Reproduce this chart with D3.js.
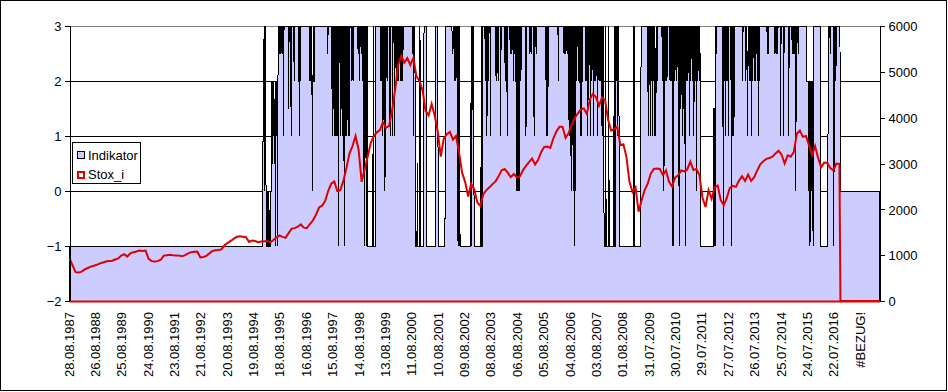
<!DOCTYPE html>
<html><head><meta charset="utf-8">
<script src="https://cdn.jsdelivr.net/npm/d3@7"></script>
<style>
body{margin:0;background:#fff}
svg{display:block}
text{font-family:"Liberation Sans",Arial,sans-serif;font-size:13px;fill:#000}
</style>
</head><body>
<svg id="chart" width="948" height="392"></svg>
<script>
// ---------- DATA ----------
const tickLabels = ["28.08.1987","26.08.1988","25.08.1989","24.08.1990","23.08.1991","21.08.1992",
  "20.08.1993","19.08.1994","18.08.1995","16.08.1996","15.08.1997","14.08.1998","13.08.1999",
  "11.08.2000","10.08.2001","09.08.2002","08.08.2003","06.08.2004","05.08.2005","04.08.2006",
  "03.08.2007","01.08.2008","31.07.2009","30.07.2010","29.07.2011","27.07.2012","26.07.2013",
  "25.07.2014","24.07.2015","22.07.2016","#BEZUG!"];
const weeksPerLabel = 52;       // one tick label per 52 weekly categories
const categoryCount = 1598;     // weekly categories
const bezugStart = 1520;        // from here on the cells are #BEZUG! (plotted as 0)
const leftTicks = [-2,-1,0,1,2,3];
const rightTicks = [0,1000,2000,3000,4000,5000,6000];
const seriesNames = ["Indikator","Stox_i"];

// Stox_i, one reading every 6 weeks
const stoxStepWeeks = 6;
const stoxValues = [
 930,780,630,620,640,690,720,750,770,790,820,840,860,875,880,905,930,990,1020,970,
 1040,1065,1080,1100,1090,1100,920,870,860,870,900,990,1000,1010,1000,995,990,975,1000,1040,
 1065,1075,1080,950,960,985,1040,1090,1105,1110,1130,1220,1270,1310,1360,1400,1410,1400,1390,1290,
 1320,1310,1285,1300,1305,1310,1280,1330,1390,1430,1400,1380,1480,1580,1590,1620,1670,1600,1590,1680,
 1760,1880,2040,2080,2180,2400,2560,2610,2400,2420,2620,2900,3220,3380,3600,3300,2600,2880,3150,3450,
 3600,3680,3730,3900,3780,3820,4150,4600,5150,5350,5200,5300,5150,5300,4900,4800,4600,4150,4050,4300,
 4050,3700,3150,3550,3640,3690,3520,3600,3250,2800,2600,2280,2560,2440,2150,2080,2330,2420,2480,2550,
 2610,2720,2850,2880,2800,2700,2770,2700,2720,2850,2950,3030,3110,2980,3080,3250,3360,3370,3340,3550,
 3700,3800,3800,3560,3660,3850,3990,4090,4180,4200,4080,4400,4520,4450,4260,4440,4380,3950,3720,3750,
 3800,3400,3420,3150,2600,2380,2480,1950,2200,2420,2560,2780,2880,2890,2880,2750,2850,2600,2500,2690,
 2740,2850,2830,2870,3040,2860,2880,2750,2250,2050,2420,2230,2480,2520,2200,2090,2250,2470,2510,2490,
 2630,2720,2620,2760,2620,2700,2850,2980,3050,3100,3120,3150,3220,3280,3190,3000,3180,3150,3250,3650,
 3720,3580,3600,3400,3180,3380,3120,2920,3020,3010,2900,2850,3000,2990];

// Indikator: [week, value] change points (value holds until the next change)
const indikatorChanges = [
 [0,-1],
 [382,2.5],[384,3],[385,0],[386,3],[387,1],[388,-1],[390,0],[391,-1],[393,0],[394,-1],
 [398,2],[400,0.5],[401,2],[402,1],[403,2],[404,0.5],[405,1.5],[406,-1],[407,2],[408,1],[409,2],[410,-1],[411,2],
 [412,3],[414,2.5],[415,3],[417,2.5],[418,3],[420,2.5],[421,3],[422,1],[423,3],
 [432,1.5],[433,3],[437,1],[438,3],[443,2],[444,3],[453,1],[454,3],[455,2],[456,3],
 [474,2],[475,3],[476,2],[477,3],[478,2],[479,0],[480,2],[481,3],[482,2],[484,3],
 [509,2.5],[510,3],
 [518,1],[519,3],[520,1.5],[521,3],[522,1],[523,3],[524,1],[525,3],[526,1],[527,3],[528,1],[529,3],[530,-1],[531,3],
 [534,1],[535,3],[536,1.5],[537,3],[538,1],[539,3],[541,1],[542,-1],[543,3],[545,1],[546,3],[547,1],[548,3],[550,1],[551,3],[552,1],[553,3],
 [556,2],[557,3],[559,2],[560,3],
 [569,2.5],[570,3],[572,2],[573,3],[575,2.5],[576,3],[578,2],[579,3],
 [581,-1],[582,3],[585,-1],[586,3],[588,-1],[599,3],[600,-1],[604,3],
 [614,2],[615,3],[616,2],[617,3],[618,1],[619,3],[620,2],[621,3],[622,0],[623,3],[624,2],[625,3],[627,2],[628,3],[632,1],[633,3],[637,1],[638,3],[641,1],[642,3],
 [644,2],[645,3],[646,2],[647,3],[649,2],[650,3],[652,2],[653,3],[655,2],[656,3],[657,2],[658,3],
 [678,1],[679,3],
 [682,-1],[686,0.5],[687,-1],[691,3],[692,-1],[699,3],[704,-1],[722,3],[727,-1],[740,-0.5],[742,3],
 [755,2.5],[757,3],[759,2],[760,3],[762,2],[763,3],
 [766,-1],[767,3],[768,-1],[769,3],[770,-1],
 [792,3],[793,-1],[794,3],[797,1],[798,-1],[812,3],[813,-1],[815,3],
 [820,2],[821,3],[823,1],[824,3],[826,2],[827,3],[830,1],[831,3],
 [841,2],[842,3],[845,2],[846,3],[850,1],[851,3],[859,2],[860,3],[863,1],[864,3],
 [869,2.5],[870,3],[872,2.5],[873,3],[875,2],[876,3],[878,2.5],[879,3],
 [881,0],[882,3],[883,0],[884,3],[885,0],[886,3],[887,0],[888,3],
 [890,2],[891,3],[900,1],[901,3],[907,2.5],[908,3],[910,2.5],[911,3],[916,1],[917,3],[920,2.5],[921,3],[940,1],[941,3],[943,1],[944,3],
 [964,2],[965,3],[975,2.5],[976,3],[978,2.5],[979,3],[981,2.5],[982,3],[985,1],[986,3],[989,0],[990,3],
 [993,0],[994,3],[995,-1],[996,3],[997,0],[998,3],
 [1000,2],[1001,3],[1004,2],[1005,3],[1007,1],[1008,3],[1010,1],[1011,3],
 [1018,2],[1019,3],[1020,2],[1021,3],[1022,1],[1023,3],[1024,2],[1025,3],[1027,1],[1028,3],[1030,2],[1031,3],[1033,1],[1034,3],[1036,2],[1037,3],[1038,2],[1039,3],[1041,1],[1042,3],[1044,2],[1045,3],[1047,2],[1048,3],[1050,1],[1051,3],
 [1054,-1],[1057,3],[1058,-1],[1063,3],[1064,-1],[1074,3],[1075,-1],
 [1077,3],[1078,2],[1079,3],[1080,1],[1081,3],[1082,2],[1083,3],
 [1084,-1],[1113,3],[1114,-1],[1127,3],
 [1141,1],[1142,3],
 [1145,1],[1146,3],[1147,2],[1148,3],[1149,1],[1150,3],[1151,2],[1152,3],[1153,1],[1154,3],[1155,2],[1156,1],[1157,3],[1159,2],[1160,3],
 [1169,2],[1170,3],[1172,0],[1173,3],[1175,2],[1176,3],[1178,2],[1179,3],
 [1184,2],[1185,3],[1186,2],[1187,3],[1189,-1],[1190,3],[1191,-1],[1192,3],[1193,2],[1194,3],[1196,2],[1197,3],[1200,2],[1201,3],[1202,-1],[1203,3],
 [1205,1.5],[1206,3],[1208,1],[1209,3],[1211,1.5],[1212,3],[1214,-1],[1215,3],
 [1217,2],[1218,3],[1219,2],[1220,3],[1222,1],[1223,3],[1225,2],[1226,3],[1228,2],[1229,3],[1231,1],[1232,3],[1234,2],[1235,3],[1236,0],[1237,3],[1239,2],[1240,3],[1242,2],[1243,3],
 [1244,-1],[1270,1.5],[1271,-1],[1272,1.5],[1273,-1],
 [1274,3],[1275,2.5],[1276,3],
 [1289,-1],[1290,3],[1291,2],[1292,3],[1293,1],[1294,3],[1295,2],[1296,3],[1297,2],[1298,3],[1299,1],[1300,3],
 [1305,-1],[1306,3],[1307,1],[1308,3],[1310,1],[1311,3],[1327,2],[1328,3],
 [1333,2],[1334,3],[1336,2],[1337,1],[1338,3],[1340,2],[1341,3],[1343,2],[1344,3],[1345,1],[1346,3],[1347,2],[1348,3],[1350,2],[1351,3],[1353,2],[1354,3],[1356,2],[1357,3],[1358,1],[1359,3],[1360,2],[1361,3],
 [1376,2.5],[1377,3],[1378,2.5],[1379,3],
 [1390,2.5],[1391,3],[1393,2.5],[1394,3],[1396,2.5],[1397,3],
 [1402,1],[1403,3],[1408,1],[1409,3],[1418,1],[1419,3],
 [1425,2.5],[1426,3],[1427,2.5],[1428,3],[1430,2.5],[1431,3],[1432,0],[1433,3],[1434,2.5],[1435,3],[1437,2.5],[1438,3],
 [1454,2],[1458,0],[1459,2],[1460,-1],[1461,2],[1463,0],[1464,2],[1466,-1],[1467,3],
 [1481,-1],[1496,3],[1500,2.5],[1501,3],[1507,-1],[1508,3],[1509,2],[1510,3],[1511,2],[1512,3],
 [bezugStart,0]
];

// ---------- BUILD ----------
const indikator = [];
{
  let c = 0;
  for (let i = 0; i < categoryCount; i++) {
    while (c + 1 < indikatorChanges.length && indikatorChanges[c + 1][0] <= i) c++;
    indikator.push([i, i >= bezugStart ? 0 : indikatorChanges[c][1]]);
  }
}
const stox = stoxValues.map((v, k) => [k * stoxStepWeeks, v]);
stox.push([bezugStart, 0], [categoryCount - 1, 0]);

const svg = d3.select("#chart");
const plot = {left: 69.5, right: 879.5, top: 26, bottom: 301};

const x = d3.scaleLinear().domain([0, categoryCount - 1]).range([plot.left, plot.right]);
const yL = d3.scaleLinear().domain([-2, 3]).range([plot.bottom, plot.top]);
const yR = d3.scaleLinear().domain([0, 6000]).range([plot.bottom, plot.top]);

// outer border
svg.append("rect").attr("x", 0.5).attr("y", 0.5).attr("width", 946).attr("height", 390)
  .attr("fill", "#fff").attr("stroke", "#000");

// gridlines
svg.append("g").selectAll("line").data(leftTicks.filter(d => d > -2)).join("line")
  .attr("x1", plot.left).attr("x2", plot.right)
  .attr("y1", d => Math.round(yL(d)) + 0.5).attr("y2", d => Math.round(yL(d)) + 0.5)
  .attr("stroke", d => d === 3 ? "#808080" : "#000").attr("shape-rendering", "crispEdges");

// indikator area
const area = d3.area().x(d => x(d[0])).y0(yL(-2)).y1(d => yL(d[1]));
svg.append("path").datum(indikator).attr("d", area)
  .attr("fill", "#CCCCFF").attr("stroke", "#000").attr("stroke-width", 1)
  .attr("shape-rendering", "crispEdges");

// stox line
const line = d3.line().x(d => x(d[0])).y(d => yR(d[1]));
svg.append("path").datum(stox).attr("d", line)
  .attr("fill", "none").attr("stroke", "#E00000").attr("stroke-width", 2)
  .attr("stroke-linejoin", "miter");

// left axis
const gL = svg.append("g").attr("transform", `translate(${plot.left},0)`)
  .call(d3.axisLeft(yL).tickValues(leftTicks).tickSize(5).tickFormat(d3.format("d")));
gL.select(".domain").attr("stroke", "#000").attr("shape-rendering", "crispEdges");
gL.selectAll(".tick line").attr("stroke", "#000").attr("shape-rendering", "crispEdges");
gL.selectAll(".tick text").attr("x", -8).attr("dy", "0.36em")
  .style("font-family", '"Liberation Sans",Arial,sans-serif').style("font-size", "13px");

// right axis
const gR = svg.append("g").attr("transform", `translate(${plot.right},0)`)
  .call(d3.axisRight(yR).tickValues(rightTicks).tickSize(5).tickFormat(d3.format("d")));
gR.select(".domain").attr("stroke", "#000").attr("shape-rendering", "crispEdges");
gR.selectAll(".tick line").attr("stroke", "#000").attr("shape-rendering", "crispEdges");
gR.selectAll(".tick text").attr("x", 9).attr("dy", "0.36em")
  .style("font-family", '"Liberation Sans",Arial,sans-serif').style("font-size", "13px");

// category axis (red base line) + rotated labels
const gX = svg.append("g").attr("transform", `translate(0,${plot.bottom})`)
  .call(d3.axisBottom(x).tickValues(tickLabels.map((_, i) => i * weeksPerLabel))
    .tickSize(0).tickFormat((d, i) => tickLabels[i]));
gX.select(".domain").attr("stroke", "#E00000").attr("stroke-width", 2);
gX.selectAll(".tick text")
  .attr("transform", "translate(3.5,11) rotate(-90)")
  .attr("x", 0).attr("y", 0).attr("dy", 0)
  .attr("text-anchor", "end")
  .style("font-family", '"Liberation Sans",Arial,sans-serif').style("font-size", "13px");

// legend
const lg = svg.append("g");
lg.append("rect").attr("x", 72.5).attr("y", 142.5).attr("width", 68).attr("height", 41)
  .attr("fill", "#fff").attr("stroke", "#000");
lg.append("rect").attr("x", 77.5).attr("y", 151.5).attr("width", 7).attr("height", 7)
  .attr("fill", "#CCCCFF").attr("stroke", "#000");
lg.append("rect").attr("x", 78).attr("y", 172).attr("width", 6).attr("height", 6)
  .attr("fill", "#fff").attr("stroke", "#E00000").attr("stroke-width", 2);
lg.append("text").attr("x", 88).attr("y", 159.5).text(seriesNames[0]);
lg.append("text").attr("x", 88).attr("y", 178.5).text(seriesNames[1]);
</script>
</body></html>
